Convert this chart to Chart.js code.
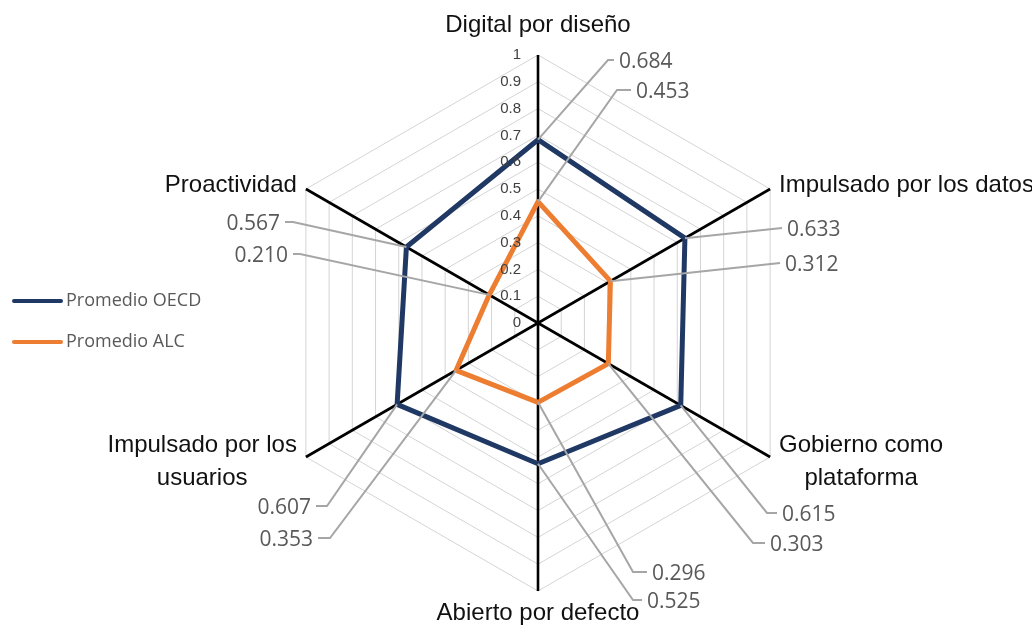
<!DOCTYPE html>
<html>
<head>
<meta charset="utf-8">
<script src="https://cdn.jsdelivr.net/npm/chart.js@4.4.1/dist/chart.umd.min.js"></script>
<style>
  html, body { margin: 0; padding: 0; background: #fff; }
  #wrap { position: relative; width: 1032px; height: 633px; }
</style>
</head>
<body>
<div id="wrap"><canvas id="radar"></canvas></div>
<script>
// axis names (multi-line where the label wraps)
const categories = [
  ['Digital por diseño'],
  ['Impulsado por los datos'],
  ['Gobierno como', 'plataforma'],
  ['Abierto por defecto'],
  ['Impulsado por los', 'usuarios'],
  ['Proactividad']
];
const seriesNames = ['Promedio OECD', 'Promedio ALC'];
const oecdValues = [0.684, 0.633, 0.615, 0.525, 0.607, 0.567];
const alcValues = [0.453, 0.312, 0.303, 0.296, 0.353, 0.210];
const scaleMin = 0;
const scaleMax = 1;
const scaleStep = 0.1;

const seriesColors = ['#203864', '#ed7d31'];

// where each value label sits, as the elbow of its leader line relative to the centre (px)
// [dx, dy, tick length]
const labelElbows = [
  [[70, -263, 6], [244, -95, 0], [229, 190, 10], [95, 277, 9], [-211, 183, 11], [-245, -101, 8]],
  [[79, -233, 14], [242, -60, 0], [215, 220, 12], [95, 249, 14], [-208, 215, 12], [-238, -69, 7]]
];

const textFont = '"Liberation Sans", Arial, sans-serif';
const labelFont = '"Open Sans", "Noto Sans", sans-serif';

// tick numbers beside the vertical axis
const tickLabelsPlugin = {
  id: 'tickLabels',
  afterDraw(chart) {
    const scale = chart.scales.r;
    const ctx = chart.ctx;
    ctx.save();
    ctx.font = '15px ' + textFont;
    ctx.fillStyle = '#404040';
    ctx.textAlign = 'right';
    ctx.textBaseline = 'middle';
    scale.ticks.forEach(t => {
      const d = scale.getDistanceFromCenterForValue(t.value);
      ctx.fillText(String(+t.value.toFixed(1)), scale.xCenter - 17, scale.yCenter - d);
    });
    ctx.restore();
  }
};

// axis names around the outer ring
const axisNamesPlugin = {
  id: 'axisNames',
  afterDraw(chart) {
    const scale = chart.scales.r;
    const ctx = chart.ctx;
    ctx.save();
    ctx.font = '24px ' + textFont;
    ctx.fillStyle = '#111';
    ctx.textBaseline = 'middle';
    const lh = 33;
    categories.forEach((lines, i) => {
      const p = scale.getPointPosition(i, scale.drawingArea);
      const w = Math.max(...lines.map(l => ctx.measureText(l).width));
      let cx, cy;
      if (Math.abs(p.x - scale.xCenter) < 1) {
        cx = p.x;
        cy = p.y < scale.yCenter ? p.y - 30 : p.y + 22;
      } else {
        cx = p.x > scale.xCenter ? p.x + 9 + w / 2 : p.x - 9 - w / 2;
        cy = p.y < scale.yCenter ? p.y - 4 : p.y + 5;
      }
      ctx.textAlign = 'center';
      const top = cy - (lines.length - 1) * lh / 2;
      lines.forEach((l, k) => ctx.fillText(l, cx, top + k * lh));
    });
    ctx.restore();
  }
};

// value labels with leader lines
const valueLabelsPlugin = {
  id: 'valueLabels',
  afterDatasetsDraw(chart) {
    const scale = chart.scales.r;
    const ctx = chart.ctx;
    ctx.save();
    ctx.font = '21px ' + labelFont;
    ctx.textBaseline = 'middle';
    chart.data.datasets.forEach((ds, d) => {
      const meta = chart.getDatasetMeta(d);
      meta.data.forEach((pt, i) => {
        const [dx, dy, tick] = labelElbows[d][i];
        const ex = scale.xCenter + dx;
        const ey = scale.yCenter + dy;
        const right = dx > 0;
        const tx = right ? ex + tick : ex - tick;
        ctx.strokeStyle = '#a6a6a6';
        ctx.lineWidth = 2;
        ctx.beginPath();
        ctx.moveTo(pt.x, pt.y);
        ctx.lineTo(ex, ey);
        ctx.lineTo(tx, ey);
        ctx.stroke();
        ctx.fillStyle = '#595959';
        ctx.textAlign = right ? 'left' : 'right';
        ctx.fillText(ds.data[i].toFixed(3), right ? tx + 5 : tx - 5, ey + 2);
      });
    });
    ctx.restore();
  }
};

// legend on the left
const sideLegendPlugin = {
  id: 'sideLegend',
  afterDraw(chart) {
    const ctx = chart.ctx;
    ctx.save();
    ctx.font = '18px ' + labelFont;
    ctx.textBaseline = 'middle';
    ctx.lineCap = 'round';
    chart.data.datasets.forEach((ds, d) => {
      const y = 301 + d * 41;
      ctx.strokeStyle = ds.borderColor;
      ctx.lineWidth = 4;
      ctx.beginPath();
      ctx.moveTo(14, y);
      ctx.lineTo(61, y);
      ctx.stroke();
      ctx.fillStyle = '#595959';
      ctx.textAlign = 'left';
      ctx.fillText(ds.label, 66, y);
    });
    ctx.restore();
  }
};

const ctx = document.getElementById('radar').getContext('2d');
new Chart(ctx, {
  type: 'radar',
  data: {
    labels: categories,
    datasets: [
      { label: seriesNames[0], data: oecdValues, borderColor: seriesColors[0], borderWidth: 5, fill: false, pointRadius: 0, pointHoverRadius: 0, borderJoinStyle: 'round' },
      { label: seriesNames[1], data: alcValues, borderColor: seriesColors[1], borderWidth: 5, fill: false, pointRadius: 0, pointHoverRadius: 0, borderJoinStyle: 'round' }
    ]
  },
  options: {
    responsive: true,
    maintainAspectRatio: false,
    animation: false,
    layout: { padding: { left: 270, right: 226, top: 55, bottom: 42 } },
    plugins: { legend: { display: false }, tooltip: { enabled: false } },
    scales: {
      r: {
        min: scaleMin,
        max: scaleMax,
        ticks: { stepSize: scaleStep, display: false },
        grid: { color: '#d4d4d4', lineWidth: 1 },
        angleLines: { color: '#000', lineWidth: 2.6 },
        pointLabels: { display: false }
      }
    }
  },
  plugins: [tickLabelsPlugin, axisNamesPlugin, valueLabelsPlugin, sideLegendPlugin]
});
</script>
</body>
</html>
